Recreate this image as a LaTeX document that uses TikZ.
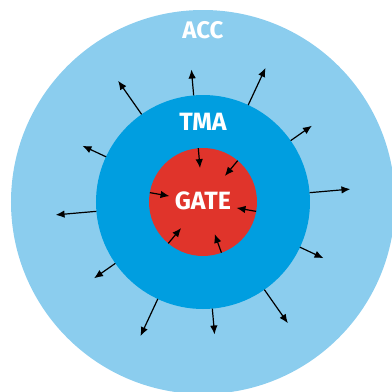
\documentclass[tikz,border=0pt]{standalone}
\usepackage{fontspec}
\setsansfont{Fira Sans}
\usepackage{tikz}
\usetikzlibrary{arrows.meta}
\definecolor{accblue}{RGB}{139,205,238}
\definecolor{tmablue}{RGB}{0,158,224}
\definecolor{gatered}{RGB}{224,52,43}
\tikzset{
    zone/.style={circle,inner sep=0pt,outer sep=0pt},
    zonelabel/.style={text=white,font=\sffamily\bfseries\fontsize{25}{30}\selectfont},
    flow/.style={line width=1.2pt,-{Latex[length=9pt,width=7.5pt]}}
}

\begin{document}
\begin{tikzpicture}[x=1pt,y=1pt]
    \useasboundingbox (-203,-190) rectangle (189,202);
    \clip (-203,-190) rectangle (189,202);
    \node[zone,fill=accblue,minimum size=384pt] (acc) at (0,0) {};
    \node[zone,fill=tmablue,minimum size=214pt] (tma) at (0,0) {};
    \node[zone,fill=gatered,minimum size=108pt] (gate) at (0,0) {};
    \node[zonelabel,font=\sffamily\bfseries\fontsize{24}{28}\selectfont] (accname) at (0,172) {ACC};
    \node[zonelabel] (tmaname) at (0,80) {TMA};
    \node[zonelabel] (gatename) at (0,1) {GATE};

    \coordinate (O1) at (125:148);
    \coordinate (O2) at (95:133);
    \coordinate (O3) at (65:148);
    \coordinate (O4) at (35:133);
    \coordinate (O5) at (5:148);
    \coordinate (O6) at (-25:133);
    \coordinate (O7) at (-55:148);
    \coordinate (O8) at (-85:133);
    \coordinate (O9) at (-115:148);
    \coordinate (O10) at (-145:133);
    \coordinate (O11) at (-175:148);
    \coordinate (O12) at (155:133);
    \draw[flow] (tma.125) -- (O1);
    \draw[flow] (tma.95) -- (O2);
    \draw[flow] (tma.65) -- (O3);
    \draw[flow] (tma.35) -- (O4);
    \draw[flow] (tma.5) -- (O5);
    \draw[flow] (tma.-25) -- (O6);
    \draw[flow] (tma.-55) -- (O7);
    \draw[flow] (tma.-85) -- (O8);
    \draw[flow] (tma.-115) -- (O9);
    \draw[flow] (tma.-145) -- (O10);
    \draw[flow] (tma.-175) -- (O11);
    \draw[flow] (tma.155) -- (O12);

    \coordinate (I1) at (95:34);
    \coordinate (I2) at (50:34);
    \coordinate (I3) at (-10:34);
    \coordinate (I4) at (-70:34);
    \coordinate (I5) at (-130:34);
    \coordinate (I6) at (170:34);
    \draw[flow] (gate.95) -- (I1);
    \draw[flow] (gate.50) -- (I2);
    \draw[flow] (gate.-10) -- (I3);
    \draw[flow] (gate.-70) -- (I4);
    \draw[flow] (gate.-130) -- (I5);
    \draw[flow] (gate.170) -- (I6);
\end{tikzpicture}
\end{document}
